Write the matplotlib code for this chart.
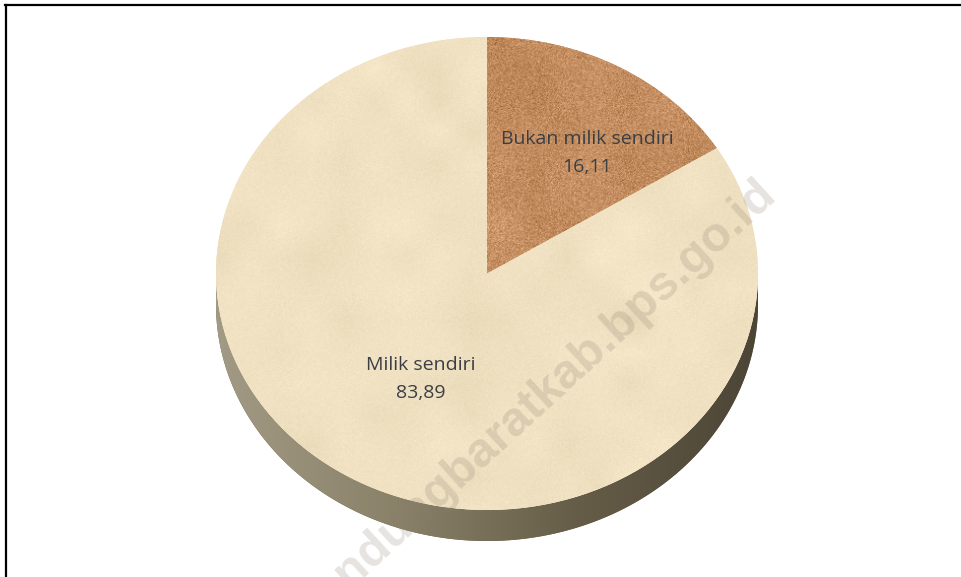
import numpy as np
import matplotlib
matplotlib.use("Agg")
import matplotlib.pyplot as plt
from matplotlib.patches import Polygon
from matplotlib.colors import LinearSegmentedColormap, to_rgb
from matplotlib.lines import Line2D

# Status kepemilikan (persen)
categories = ["Bukan milik sendiri", "Milik sendiri"]
shares = [16.11, 83.89]
slice_colors = ["#C38D60", "#F0E1C2"]

W, H = 961, 577
fig = plt.figure(figsize=(W / 100, H / 100), dpi=100)
fig.patch.set_facecolor("white")
ax = fig.add_axes([0, 0, 1, 1])

# pie geometry in pixels: centre and radii of the tilted top face
cx_px, cy_px = 487.0, 273.5
rx_px, ry_px = 271.0, 236.5
depth = 31.0 / ry_px

wedges, _ = ax.pie(shares, colors=slice_colors, startangle=90,
                   counterclock=False, radius=1.0,
                   wedgeprops=dict(linewidth=0, edgecolor="none", zorder=2))

rng = np.random.default_rng(11)


def smooth_noise(ny, nx, cy, cx):
    c = rng.normal(size=(cy, cx))
    xi = np.linspace(0, cx - 1, nx)
    yi = np.linspace(0, cy - 1, ny)
    tmp = np.array([np.interp(xi, np.arange(cx), row) for row in c])
    return np.array([np.interp(yi, np.arange(cy), col) for col in tmp.T]).T


def add_texture(patch, base, coarse_amp, fine_amp, z):
    base = np.array(to_rgb(base))
    ny, nx = 480, 550
    coarse = smooth_noise(ny, nx, 16, 18)
    fine = rng.normal(size=(ny, nx))
    tint = np.array([1.0, 1.0, 1.15])
    img = base[None, None, :] + (coarse_amp * coarse + fine_amp * fine)[..., None] * tint
    im = ax.imshow(np.clip(img, 0, 1), extent=(-1, 1, -1, 1), aspect="auto",
                   interpolation="bilinear", zorder=z)
    im.set_clip_path(patch)


# side wall of the disc
t = np.linspace(np.pi, 2 * np.pi, 300)
top_arc = np.column_stack([np.cos(t), np.sin(t)])
bot_arc = np.column_stack([np.cos(t[::-1]), np.sin(t[::-1]) - depth])
side = Polygon(np.vstack([top_arc, bot_arc]), closed=True,
               facecolor="#6b624c", edgecolor="none", zorder=1)
ax.add_patch(side)
side_cmap = LinearSegmentedColormap.from_list(
    "side", ["#a29a84", "#8a8169", "#665d48", "#4c4536"])
grad = np.linspace(0, 1, 256)[None, :]
gim = ax.imshow(grad, cmap=side_cmap, extent=(-1, 1, -1 - depth, 0),
                aspect="auto", interpolation="bilinear", zorder=1.1)
gim.set_clip_path(side)

# textured top faces
add_texture(wedges[0], slice_colors[0], 0.018, 0.055, 2.1)
add_texture(wedges[1], slice_colors[1], 0.011, 0.010, 2.1)

# data labels
label_pos = [(0.369, 0.51), (-0.244, -0.445)]
for name, v, (lx, ly) in zip(categories, shares, label_pos):
    ax.text(lx, ly, f"{name}\n{v:.2f}".replace(".", ","), ha="center",
            va="center", fontsize=14, family="Open Sans", color="#3b3e44",
            linespacing=1.72, zorder=5)

ax.set_aspect("auto")
ax.set_xlim(-cx_px / rx_px, (W - cx_px) / rx_px)
ax.set_ylim(-(H - cy_px) / ry_px, cy_px / ry_px)
ax.axis("off")

# watermark
fig.text(778 / W, 1 - 196 / H, "bandungbaratkab.bps.go.id", rotation=42.5,
         rotation_mode="anchor", ha="right", va="baseline", fontsize=35,
         fontweight="bold", family="Liberation Sans", color="#8c8070",
         alpha=0.22, zorder=10)

# frame lines (top and left)
fig.add_artist(Line2D([5 / W, 1], [1 - 4.5 / H, 1 - 4.5 / H],
                      transform=fig.transFigure, color="black", lw=1.6))
fig.add_artist(Line2D([5.5 / W, 5.5 / W], [0, 1 - 4.5 / H],
                      transform=fig.transFigure, color="black", lw=1.6))

fig.savefig("out.png", dpi=100, facecolor="white")
